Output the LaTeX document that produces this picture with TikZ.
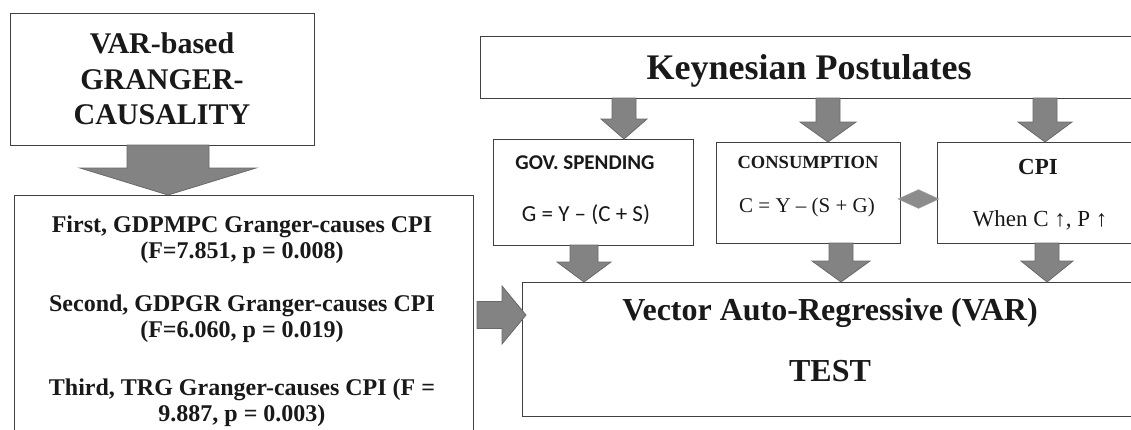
\documentclass[tikz,border=0pt]{standalone}
\usepackage{fontspec}
\setmainfont{Liberation Serif}
\newfontfamily\calibri{Carlito}
\usepackage{xcolor}
\usetikzlibrary{calc, shapes.geometric, positioning}
\definecolor{boxgray}{HTML}{404040}
\definecolor{arrowgray}{HTML}{838383}
\definecolor{arrowedge}{HTML}{6A6A6A}
\definecolor{linkgray}{HTML}{8C8C8C}
\newcommand\FontPx[2]{\fontsize{#1}{#2}\selectfont}
\newcommand\DownArrow[6]{%
\coordinate (tail) at (#1,0 |- #2.south);
\coordinate (tip) at (#1,0 |- #3.north);
\filldraw[blockarrow] ([xshift=-#4pt]tail) -- ([xshift=-#4pt,yshift=#6pt]tip) -- ([xshift=-#5pt,yshift=#6pt]tip)
  -- (tip) -- ([xshift=#5pt,yshift=#6pt]tip) -- ([xshift=#4pt,yshift=#6pt]tip) -- ([xshift=#4pt]tail) -- cycle;
}
\tikzset{
  panel/.style={draw=boxgray, line width=1pt, fill=white, rectangle, inner sep=0pt, outer sep=0pt},
  blockarrow/.style={fill=arrowgray, draw=arrowedge, line width=0.8pt, line join=miter},
  txt/.style={inner sep=0pt, align=center, text=black!90}
}

\begin{document}
\begin{tikzpicture}[x=1pt, y=-1pt]
  \useasboundingbox (0,0) rectangle (1131,429);
  \clip (0,0) rectangle (1131,429);

  % boxes
  \node[panel, minimum width=304pt, minimum height=132pt] (vg) at (162,79) {};
  \node[panel, minimum width=459pt, minimum height=250pt] (gc) at (243.5,320) {};
  \node[panel, minimum width=658pt, minimum height=62pt] (kp) at (809,67) {};
  \node[panel, minimum width=200pt, minimum height=106pt] (gs) at (593,192) {};
  \node[panel, minimum width=184pt, minimum height=101pt] (cons) at (808,192.5) {};
  \node[panel, minimum width=206pt, minimum height=101pt] (cpi) at (1040,192.5) {};
  \node[panel, minimum width=616pt, minimum height=134pt] (var) at (830,349) {};

  % texts
  \node[txt, font=\bfseries\FontPx{30}{35.5}] (vgText) at (162,79) {VAR-based\\GRANGER-\\CAUSALITY};
  \node[txt, font=\bfseries\FontPx{24}{26}] (gcFirst) at (242,240) {First, GDPMPC Granger-causes CPI\\(F=7.851, p = 0.008)};
  \node[txt, font=\bfseries\FontPx{24}{26}] (gcSecond) at (242,319) {Second, GDPGR Granger-causes CPI\\(F=6.060, p = 0.019)};
  \node[txt, font=\bfseries\FontPx{24}{26}] (gcThird) at (242,403) {Third, TRG Granger-causes CPI (F =\\9.887, p = 0.003)};
  \node[txt, font=\bfseries\FontPx{36}{40}] (kpText) at (809,71) {Keynesian Postulates};
  \node[txt, font=\calibri\bfseries\FontPx{21}{24}] (gsTitle) at (585,163) {GOV. SPENDING};
  \node[txt, font=\calibri\FontPx{23}{26}] (gsEq) at (586,215) {G = Y – (C + S)};
  \node[txt, font=\bfseries\FontPx{18.5}{22}] (consTitle) at (808,162) {CONSUMPTION};
  \node[txt, font=\FontPx{21}{24}] (consEq) at (807,207) {C = Y – (S + G)};
  \node[txt, font=\bfseries\FontPx{23}{26}] (cpiTitle) at (1038,167) {CPI};
  \node[txt, font=\FontPx{23}{26}] (cpiRule) at (1040,220) {When C ↑, P ↑};
  \node[txt, font=\bfseries\FontPx{32}{36}] (varTitle) at (830,313) {Vector Auto-Regressive (VAR)};
  \node[txt, font=\bfseries\FontPx{32}{36}] (varTest) at (830,371) {TEST};

  % block arrows
  \DownArrow{168}{vg}{gc}{41}{88}{27}
  \DownArrow{624}{kp}{gs}{12}{23}{20}
  \DownArrow{828}{kp}{cons}{12}{28}{20}
  \DownArrow{1045}{kp}{cpi}{12}{27}{20}
  \DownArrow{584}{gs}{var}{14}{27}{20}
  \DownArrow{841}{cons}{var}{12}{29}{21}
  \DownArrow{1047}{cpi}{var}{12}{26}{21}

  \coordinate (rtail) at (gc.east |- 0,315);
  \coordinate (rtip) at (var.west |- 0,315);
  \filldraw[blockarrow] ([xshift=4pt,yshift=13.5pt]rtail) -- ([xshift=-20pt,yshift=13.5pt]rtip) -- ([xshift=-20pt,yshift=29pt]rtip)
    -- ([xshift=4pt]rtip) -- ([xshift=-20pt,yshift=-29pt]rtip) -- ([xshift=-20pt,yshift=-13.5pt]rtip) -- ([xshift=4pt,yshift=-13.5pt]rtail) -- cycle;

  % link between consumption and cpi
  \node[diamond, fill=linkgray, draw=linkgray!80!white, inner sep=0pt, minimum width=41pt, minimum height=19pt] (link) at ([yshift=-6.5pt]$(cons.east)!0.5!(cpi.west)$) {};
  %\node[diamond, fill=linkgray] at (917,199) {};
\end{tikzpicture}
\end{document}
